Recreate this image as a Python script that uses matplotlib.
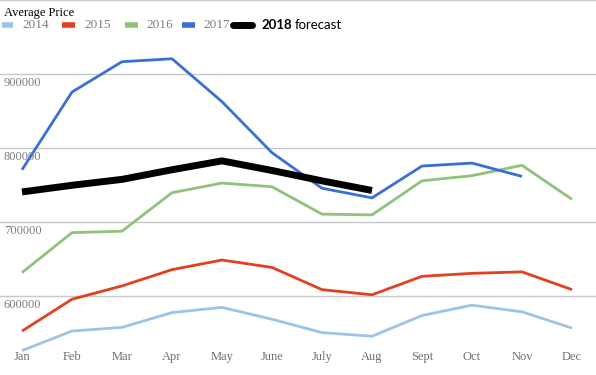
import matplotlib
matplotlib.use('Agg')
import matplotlib.pyplot as plt
from matplotlib.lines import Line2D

months = ['Jan', 'Feb', 'Mar', 'Apr', 'May', 'June', 'July', 'Aug', 'Sept', 'Oct', 'Nov', 'Dec']
p2014 = [526600, 553000, 558000, 578000, 585000, 569000, 551000, 546000, 574000, 588000, 579000, 557000]
p2015 = [553000, 596000, 614000, 636000, 649000, 639000, 609000, 602000, 627000, 631000, 633000, 609000]
p2016 = [632000, 686000, 688000, 740000, 753000, 748000, 711000, 710000, 756000, 763000, 777000, 731000]
p2017 = [771000, 876000, 917000, 921000, 863000, 794000, 746000, 733000, 776000, 780000, 762000]
p2018 = [741000, 750000, 758000, 771000, 783000, 770000, 756000, 743000]
yticks = [600000, 700000, 800000, 900000, 1000000]

c14, c15, c16, c17 = '#9dc3e6', '#e2401f', '#8fc27a', '#3a6fd6'
W, H = 596, 375
fig = plt.figure(figsize=(W/100, H/100), dpi=100)
ax = fig.add_axes([0, 0, 1, 1])
ax.set_xlim(-0.44, 11.48)
ax.set_ylim(1000400 - 375*1351.4, 1000400)
for s in ax.spines.values():
    s.set_visible(False)
ax.set_xticks([]); ax.set_yticks([])
for t in yticks:
    ax.axhline(t, color='#c8c8c8', lw=1, zorder=0)
    if t < 1000000:
        ax.text(-0.36, t - 3000, str(t), ha='left', va='top', fontsize=9,
                color='#7f7f7f', family='Liberation Serif')

x = list(range(12))
ax.plot(x, p2014, color=c14, lw=2, solid_capstyle='butt')
ax.plot(x, p2015, color=c15, lw=2, solid_capstyle='butt')
ax.plot(x, p2016, color=c16, lw=2, solid_capstyle='butt')
ax.plot(x[:len(p2017)], p2017, color=c17, lw=2, solid_capstyle='butt')
ax.plot(x[:len(p2018)], p2018, color='black', lw=5, solid_capstyle='butt')

for i, m in enumerate(months):
    ax.text(i, 1 - 357/H, m, transform=ax.get_xaxis_transform(), ha='center', va='center',
            fontsize=9, color='#6f6f6f', family='Liberation Serif')

fig.text(4/W, 1 - 13/H, 'Average Price', ha='left', va='center', fontsize=9,
         color='black', family='Liberation Serif')
ly = 1 - 25/H
items = [(2, 13, 22, '2014', c14), (62, 75, 84, '2015', c15),
         (125, 138, 146, '2016', c16), (182, 195, 203, '2017', c17)]
for x0, x1, tx, lab, c in items:
    fig.add_artist(Line2D([x0/W, x1/W], [ly, ly], color=c, lw=4, solid_capstyle='butt'))
    fig.text(tx/W, ly, lab, ha='left', va='center', fontsize=9.5, color='#7f7f7f',
             family='Liberation Serif')
fig.add_artist(Line2D([233/W, 252/W], [ly, ly], color='black', lw=5, solid_capstyle='round'))
t = fig.text(261/W, ly, '2018', ha='left', va='center', fontsize=9.5, color='black',
             family='Lato', weight='bold')
fig.canvas.draw()
bb = t.get_window_extent()
fig.text((bb.x1 + 3)/W, ly, 'forecast', ha='left', va='center', fontsize=9.5, color='black',
         family='Lato')

fig.savefig('out.png', dpi=100)
